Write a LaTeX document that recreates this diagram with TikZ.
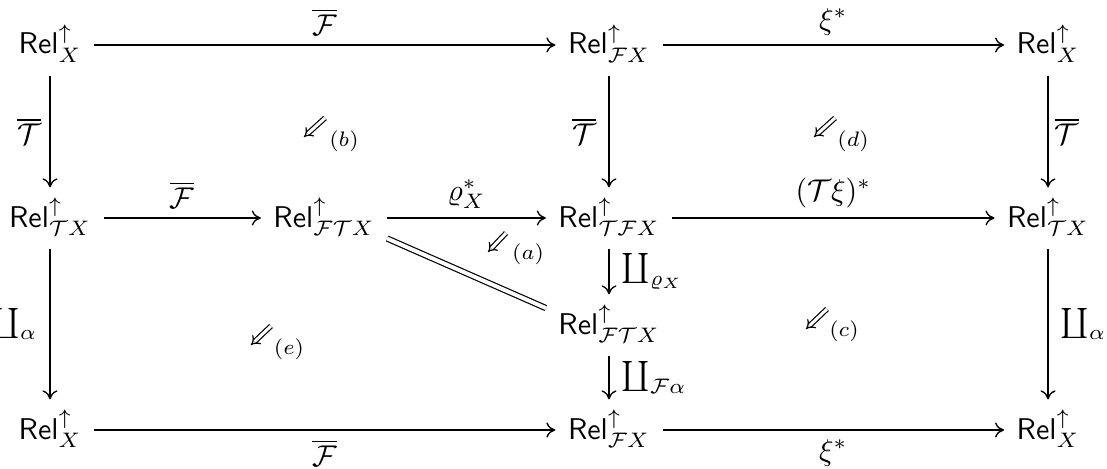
\documentclass[tikz,border=0pt]{standalone}
\usepackage{amsmath,amssymb}
\usetikzlibrary{arrows.meta}
\newcommand{\relup}[1]{\mathsf{Rel}^{\uparrow}_{#1}}
\newcommand{\cF}{\mathcal{F}}
\newcommand{\cT}{\mathcal{T}}
\begin{document}
\begin{tikzpicture}[x=0.3333pt,y=-0.3333pt,
  obj/.style={inner xsep=4pt, inner ysep=1pt, text height=9pt, text depth=3pt},
  map/.style={-{To[length=3pt,width=5pt]}, line width=0.45pt},
  vmap/.style={map, shorten <=3pt, shorten >=3pt},
  eqline/.style={double, double distance=1.3pt, line width=0.4pt},
  cellarrow/.style={double, double distance=1pt, line width=0.4pt, -{Implies}},
  lab/.style={inner sep=0pt},
  cellname/.style={inner sep=0pt}]

\useasboundingbox (0,0) rectangle (1107,468);

% objects
\node[obj] (x1)   at (50,45)   {$\relup{X}$};
\node[obj] (fx1)  at (609,45)  {$\relup{\cF X}$};
\node[obj] (x2)   at (1048,45) {$\relup{X}$};
\node[obj] (tx1)  at (50,218)  {$\relup{\cT X}$};
\node[obj] (ftx1) at (324,218) {$\relup{\cF\cT X}$};
\node[obj] (tfx)  at (609,218) {$\relup{\cT\cF X}$};
\node[obj] (tx2)  at (1048,218){$\relup{\cT X}$};
\node[obj] (ftx2) at (609,325) {$\relup{\cF\cT X}$};
\node[obj] (x3)   at (50,430)  {$\relup{X}$};
\node[obj] (fx2)  at (609,430) {$\relup{\cF X}$};
\node[obj] (x4)   at (1048,430){$\relup{X}$};

% horizontal maps
\draw[map] (x1) -- node[lab, above=3pt] {$\overline{\cF}$} (fx1);
\draw[map] (fx1) -- node[lab, above=3pt] {$\xi^*$} (x2);
\draw[map] (tx1) -- node[lab, above=3pt] {$\overline{\cF}$} (ftx1);
\draw[map] (ftx1) -- node[lab, above=3pt] {$\varrho_X^*$} (tfx);
\draw[map] (tfx) -- node[lab, above=3pt] {$(\cT\xi)^*$} (tx2);
\draw[map] (x3) -- node[lab, below=3pt] {$\overline{\cF}$} (fx2);
\draw[map] (fx2) -- node[lab, below=3pt] {$\xi^*$} (x4);

% vertical maps
\draw[vmap] (x1) -- node[lab, left=2.7pt] {$\overline{\cT}$} (tx1);
\draw[vmap] (fx1) -- node[lab, left=4pt] {$\overline{\cT}$} (tfx);
\draw[vmap] (x2) -- node[lab, right=2pt] {$\overline{\cT}$} (tx2);
\draw[vmap] (tx1) -- node[lab, left=4pt] {$\coprod_{\alpha}$} (x3);
\draw[vmap] (tfx) -- node[lab, right=4pt] {$\coprod_{\varrho_X}$} (ftx2);
\draw[vmap] (ftx2) -- node[lab, right=4pt] {$\coprod_{\cF\alpha}$} (fx2);
\draw[vmap] (tx2) -- node[lab, right=4pt] {$\coprod_{\alpha}$} (x4);

% identity
\draw[eqline] (ftx1.-18) -- (ftx2.165);

% 2-cells
\coordinate (b-s) at (325,118); \coordinate (b-t) at (304,137);
\draw[cellarrow] (b-s) -- (b-t);
\node[cellname] (b-l) at (344,141) {$\scriptstyle (b)$};

\coordinate (d-s) at (835,118); \coordinate (d-t) at (814,137);
\draw[cellarrow] (d-s) -- (d-t);
\node[cellname] (d-l) at (853,141) {$\scriptstyle (d)$};

\coordinate (a-s) at (506,233); \coordinate (a-t) at (488,252);
\draw[cellarrow] (a-s) -- (a-t);
\node[cellname] (a-l) at (528,254) {$\scriptstyle (a)$};

\coordinate (e-s) at (271,326); \coordinate (e-t) at (251,345);
\draw[cellarrow] (e-s) -- (e-t);
\node[cellname] (e-l) at (289,349) {$\scriptstyle (e)$};

\coordinate (c-s) at (827,309); \coordinate (c-t) at (806,329);
\draw[cellarrow] (c-s) -- (c-t);
\node[cellname] (c-l) at (844,331) {$\scriptstyle (c)$};
\end{tikzpicture}
\end{document}
